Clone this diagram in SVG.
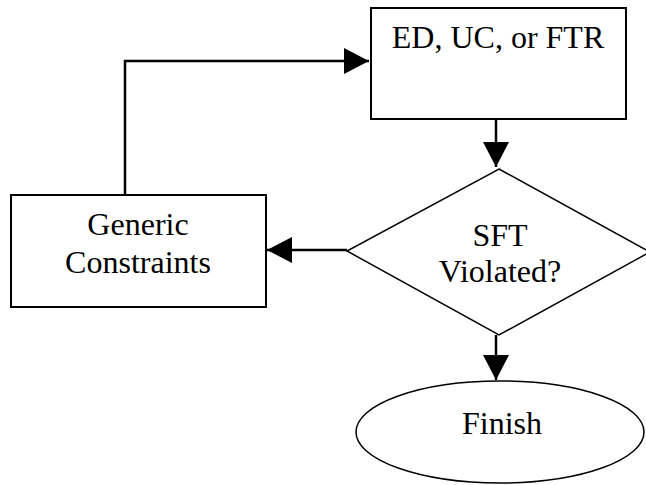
<svg xmlns="http://www.w3.org/2000/svg" width="646" height="485" viewBox="0 0 646 485">
<style>
.shape{fill:#fff;stroke:#000;stroke-width:2}
.thin{fill:#fff;stroke:#000;stroke-width:1.5}
.t{font-family:"Liberation Serif","Times New Roman",serif;font-size:32px;fill:#000;text-anchor:middle}
.c{fill:none;stroke:#000;stroke-width:2.5}
</style>
<defs>
<marker id="ah" markerUnits="userSpaceOnUse" markerWidth="26" markerHeight="26" refX="25" refY="13" orient="auto">
<path d="M0,0 L25,13 L0,26 Z" fill="#000"/>
</marker>
</defs>
<g id="edges">
<path class="c" d="M125,195 V61 H369" marker-end="url(#ah)"/>
<path class="c" d="M496,119 V167" marker-end="url(#ah)"/>
<path class="c" d="M347,250 H267" marker-end="url(#ah)"/>
<path class="c" d="M496,335 V380" marker-end="url(#ah)"/>
</g>
<g id="n_ed">
<rect class="shape" x="371" y="8" width="255" height="111"/>
<text class="t" x="498" y="48">ED, UC, or FTR</text>
</g>
<g id="n_sft">
<polygon class="thin" points="499,169 650,252 499,335 347,251"/>
<text class="t" x="500" y="246">SFT</text>
<text class="t" x="500" y="282">Violated?</text>
</g>
<g id="n_generic">
<rect class="shape" x="11" y="195" width="255" height="112"/>
<text class="t" x="138" y="235">Generic</text>
<text class="t" x="138" y="273">Constraints</text>
</g>
<g id="n_finish">
<ellipse class="thin" cx="500" cy="432" rx="144" ry="51"/>
<text class="t" x="502" y="434">Finish</text>
</g>
</svg>
